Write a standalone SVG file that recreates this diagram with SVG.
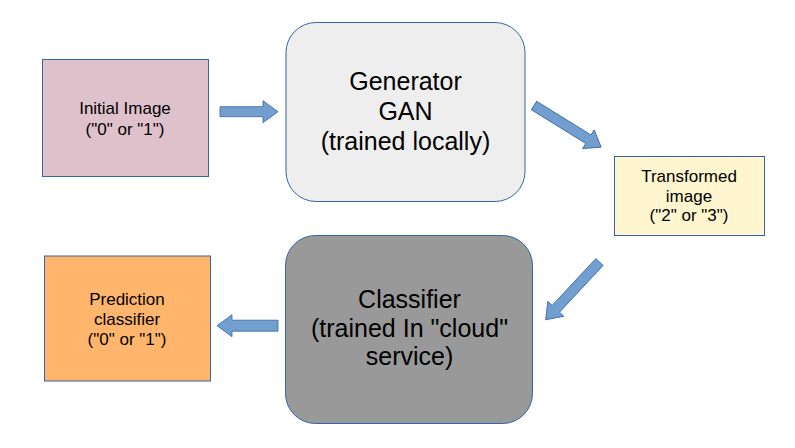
<svg xmlns="http://www.w3.org/2000/svg" width="795" height="448" viewBox="0 0 795 448">
<style>
.box{stroke:#3465a4;stroke-width:1}
.t17{font-family:"Liberation Sans",Arial,sans-serif;font-size:17px;fill:#000;text-anchor:middle}
.t25{font-family:"Liberation Sans",Arial,sans-serif;font-size:25px;fill:#000;text-anchor:middle}
.arrow{fill:#729fcf;stroke:#3465a4;stroke-width:0.8}
</style>
<rect width="795" height="448" fill="#ffffff"/>
<g id="initial">
<rect class="box" x="42.5" y="59.5" width="166" height="117" fill="#dfc1cb"/>
<text class="t17" x="125" y="114">Initial Image</text>
<text class="t17" x="125" y="135">("0" or "1")</text>
</g>
<g id="generator">
<rect class="box" x="286" y="22.5" width="239" height="179" rx="30" fill="#eeeeee"/>
<text class="t25" x="405.5" y="90">Generator</text>
<text class="t25" x="405.5" y="120">GAN</text>
<text class="t25" x="405.5" y="150">(trained locally)</text>
</g>
<g id="transformed">
<rect class="box" x="614.5" y="156.5" width="150" height="79" fill="#fff5ce"/>
<text class="t17" x="689" y="182">Transformed</text>
<text class="t17" x="689" y="201.5">image</text>
<text class="t17" x="689" y="221">("2" or "3")</text>
</g>
<g id="classifier">
<rect class="box" x="285.5" y="235.5" width="247" height="188" rx="30" fill="#999999"/>
<text class="t25" x="409.5" y="307.5">Classifier</text>
<text class="t25" x="409.5" y="336.5">(trained In "cloud"</text>
<text class="t25" x="409.5" y="365">service)</text>
</g>
<g id="prediction">
<rect class="box" x="44.5" y="256" width="166" height="125" fill="#ffb66c"/>
<text class="t17" x="127" y="305">Prediction</text>
<text class="t17" x="127" y="325">classifier</text>
<text class="t17" x="127" y="345">("0" or "1")</text>
</g>
<g id="connectors">
<path class="arrow" transform="translate(220,111.7)" d="M0,-5 L43,-5 L43,-11 L58,0 L43,11 L43,5 L0,5 Z"/>
<path class="arrow" transform="translate(534,105.5) rotate(31.8)" d="M0,-5 L64,-5 L64,-11 L79,0 L64,11 L64,5 L0,5 Z"/>
<path class="arrow" transform="translate(599.5,262) rotate(133)" d="M0,-5 L64,-5 L64,-11 L79,0 L64,11 L64,5 L0,5 Z"/>
<path class="arrow" transform="translate(278,325.7) rotate(180)" d="M0,-5.5 L46,-5.5 L46,-11 L61,0 L46,11 L46,5.5 L0,5.5 Z"/>
</g>
</svg>
